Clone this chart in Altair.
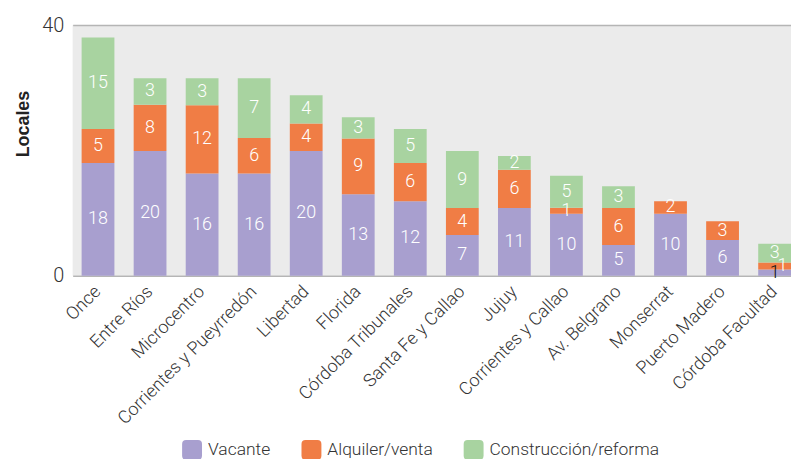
import altair as alt
import pandas as pd

categories = ["Once", "Entre Ríos", "Microcentro", "Corrientes y Pueyrredón", "Libertad",
              "Florida", "Córdoba Tribunales", "Santa Fe y Callao", "Jujuy",
              "Corrientes y Callao", "Av. Belgrano", "Monserrat", "Puerto Madero",
              "Córdoba Facultad"]
series = ["Vacante", "Alquiler/venta", "Construcción/reforma"]
colors = ["#a89fcf", "#f07d45", "#a8d3a0"]

# bar heights as drawn
vacante = [18.0, 19.9, 16.3, 16.3, 19.9, 13.0, 11.9, 6.5, 10.8, 9.9, 4.9, 9.9, 5.7, 1.0]
alquiler = [5.4, 7.4, 10.9, 5.7, 4.4, 8.9, 6.1, 4.3, 6.1, 0.95, 5.9, 2.0, 3.0, 1.1]
construccion = [14.6, 4.2, 4.3, 9.5, 4.5, 3.4, 5.4, 9.1, 2.2, 5.1, 3.5, 0, 0, 3.0]

# printed labels
vacante_lab = [18, 20, 16, 16, 20, 13, 12, 7, 11, 10, 5, 10, 6, 1]
alquiler_lab = [5, 8, 12, 6, 4, 9, 6, 4, 6, 1, 6, 2, 3, 1]
construccion_lab = [15, 3, 3, 7, 4, 3, 5, 9, 2, 5, 3, None, None, 3]

rows = []
for i, c in enumerate(categories):
    base = 0.0
    for k, (s, vals, labs) in enumerate(zip(series,
                                            [vacante, alquiler, construccion],
                                            [vacante_lab, alquiler_lab, construccion_lab])):
        v = vals[i]
        lab = labs[i]
        tcolor = "white"
        shift = 0
        if c == "Córdoba Facultad" and k == 0:
            tcolor = "#111111"
        if c == "Córdoba Facultad" and k == 1:
            shift = 1
        rows.append(dict(cat=c, serie=s, order=k, y0=base, y1=base + v,
                         mid=base + v / 2, label="" if lab is None else str(lab),
                         tcolor=tcolor, shift=shift))
        base += v
df = pd.DataFrame(rows)

FONT = "Roboto"
rounded = "M-1,-0.6 Q-1,-1 -0.6,-1 L0.6,-1 Q1,-1 1,-0.6 L1,0.6 Q1,1 0.6,1 L-0.6,1 Q-1,1 -1,0.6 Z"

xenc = alt.X("cat:N", sort=categories,
             scale=alt.Scale(paddingInner=0.37, paddingOuter=0.086, align=1),
             axis=alt.Axis(title=None, labelAngle=-45, labelFontSize=18, labelColor="#333333",
                           labelFont=FONT, labelFontWeight=300, labelLimit=400,
                           labelAlign="right", labelBaseline="middle",
                           domain=False, ticks=False, labelPadding=13, grid=False))

yscale = alt.Scale(domain=[0, 40], nice=False)

bars = alt.Chart(df).mark_bar().encode(
    x=xenc,
    y=alt.Y("y0:Q", scale=yscale,
            axis=alt.Axis(values=[0, 40], title="Locales", labelFontSize=20,
                          labelColor="#333333", labelFont=FONT, labelFontWeight=300,
                          labelPadding=9, ticks=False, domain=False,
                          grid=True, gridColor="#b5b5b5", gridWidth=1.5,
                          titleFont="Liberation Sans", titleFontSize=18,
                          titleFontWeight="bold", titleColor="#222222",
                          titleX=-49, titleY=99, titleAngle=-90,
                          titleBaseline="middle", titleAlign="center")),
    y2="y1:Q",
    color=alt.Color("serie:N", scale=alt.Scale(domain=series, range=colors),
                    legend=alt.Legend(title=None, orient="none", legendX=110, legendY=417,
                                      direction="horizontal", symbolType=rounded,
                                      symbolSize=400, symbolStrokeWidth=0,
                                      symbolOpacity=1, labelLimit=400,
                                      labelFontSize=17.5, labelFont=FONT, labelFontWeight=300,
                                      labelColor="#333333", columnPadding=31,
                                      labelOffset=6)),
    order=alt.Order("order:Q"),
)

text_main = alt.Chart(df).transform_filter(
    (alt.datum.label != "") & (alt.datum.shift == 0)
).mark_text(fontSize=18, font=FONT, fontWeight=300, baseline="middle", align="center").encode(
    x=alt.X("cat:N", sort=categories),
    y=alt.Y("mid:Q", scale=yscale),
    text="label:N",
    color=alt.Color("tcolor:N", scale=None),
)

text_shift = alt.Chart(df).transform_filter(
    (alt.datum.label != "") & (alt.datum.shift == 1)
).mark_text(fontSize=18, font=FONT, fontWeight=300, baseline="middle", align="center", dx=8).encode(
    x=alt.X("cat:N", sort=categories),
    y=alt.Y("mid:Q", scale=yscale),
    text="label:N",
    color=alt.Color("tcolor:N", scale=None),
)

chart = alt.layer(bars, text_main, text_shift).properties(
    width=722, height=252,
    autosize=alt.AutoSizeParams(type="none"),
    padding={"left": 65, "top": 16, "right": 0, "bottom": 183},
).configure_view(fill="#ebebeb", stroke=None)

chart.save("out.html", embed_options={"renderer": "svg", "actions": False})
